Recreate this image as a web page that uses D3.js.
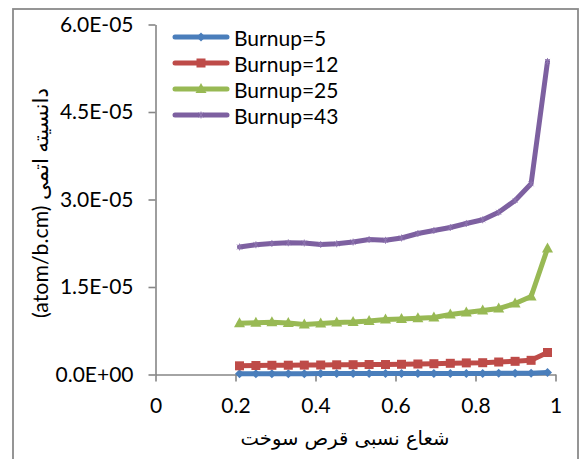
<!DOCTYPE html>
<html>
<head>
<meta charset="utf-8">
<script src="https://cdn.jsdelivr.net/npm/d3@7"></script>
<style>
  html, body { margin: 0; padding: 0; background: #fff; }
  svg { display: block; }
</style>
</head>
<body>
<svg id="chart" width="581" height="459"></svg>
<script>
// ---- data ----
const radius = [0.21, 0.251, 0.291, 0.332, 0.372, 0.413, 0.453, 0.494, 0.534, 0.575,
                0.615, 0.656, 0.696, 0.737, 0.777, 0.818, 0.858, 0.899, 0.939, 0.98];
const burnup5  = [0.015e-5, 0.015e-5, 0.015e-5, 0.015e-5, 0.015e-5, 0.016e-5, 0.016e-5, 0.016e-5, 0.016e-5, 0.017e-5,
                  0.017e-5, 0.017e-5, 0.018e-5, 0.018e-5, 0.019e-5, 0.019e-5, 0.020e-5, 0.021e-5, 0.022e-5, 0.035e-5];
const burnup12 = [0.149e-5, 0.154e-5, 0.158e-5, 0.159e-5, 0.161e-5, 0.163e-5, 0.166e-5, 0.168e-5, 0.171e-5, 0.171e-5,
                  0.175e-5, 0.180e-5, 0.185e-5, 0.192e-5, 0.199e-5, 0.202e-5, 0.214e-5, 0.226e-5, 0.243e-5, 0.377e-5];
const burnup25 = [0.879e-5, 0.886e-5, 0.895e-5, 0.883e-5, 0.857e-5, 0.874e-5, 0.891e-5, 0.900e-5, 0.917e-5, 0.943e-5,
                  0.951e-5, 0.963e-5, 0.977e-5, 1.029e-5, 1.063e-5, 1.097e-5, 1.131e-5, 1.217e-5, 1.337e-5, 2.160e-5];
const burnup43 = [2.186e-5, 2.224e-5, 2.246e-5, 2.258e-5, 2.254e-5, 2.229e-5, 2.240e-5, 2.270e-5, 2.314e-5, 2.300e-5,
                  2.340e-5, 2.417e-5, 2.469e-5, 2.520e-5, 2.589e-5, 2.652e-5, 2.780e-5, 2.983e-5, 3.270e-5, 5.366e-5];
const seriesNames = ["Burnup=5", "Burnup=12", "Burnup=25", "Burnup=43"];
const xTicks = [0, 0.2, 0.4, 0.6, 0.8, 1];
const xTickLabels = ["0", "0.2", "0.4", "0.6", "0.8", "1"];
const yTicks = [0, 1.5e-5, 3.0e-5, 4.5e-5, 6.0e-5];
const yTickLabels = ["0.0E+00", "1.5E-05", "3.0E-05", "4.5E-05", "6.0E-05"];
const xTitle = "شعاع نسبی قرص سوخت";
const yTitle = "(atom/b.cm) دانسیته اتمی";

// ---- styling ----
const colors = ["#4A7EBB", "#BE4B48", "#98B954", "#7D60A0"];
const markers = ["diamond", "square", "triangle", "star"];
const allSeries = [burnup5, burnup12, burnup25, burnup43];
const latin = "Lato, 'DejaVu Sans', sans-serif";

const svg = d3.select("#chart");

// outer frame
svg.append("rect").attr("x", 13).attr("y", 9).attr("width", 565).attr("height", 460)
  .attr("fill", "#fff").attr("stroke", "#8a8a8a").attr("stroke-width", 1.8);

const x = d3.scaleLinear().domain([0, 1]).range([155.5, 555.5]);
const y = d3.scaleLinear().domain([0, 6e-5]).range([374.5, 24.5]);

// axes
const yAxis = d3.axisLeft(y).tickValues(yTicks)
  .tickFormat((d, i) => yTickLabels[i]).tickSize(7).tickPadding(15).tickSizeOuter(0);
const xAxis = d3.axisBottom(x).tickValues(xTicks)
  .tickFormat((d, i) => xTickLabels[i]).tickSize(7).tickPadding(17).tickSizeOuter(0);

const gy = svg.append("g").attr("transform", "translate(155.5,0)").call(yAxis);
const gx = svg.append("g").attr("transform", "translate(0,374.5)").call(xAxis);
[gx, gy].forEach(g => {
  g.select(".domain").attr("stroke", "#868686").attr("stroke-width", 1.6);
  g.selectAll(".tick line").attr("stroke", "#868686").attr("stroke-width", 1.6);
  g.selectAll(".tick text").attr("fill", "#000").style("font-family", latin).style("font-size", "21px");
});

// marker drawing
function drawMarker(g, type, color) {
  if (type === "diamond") {
    g.append("path").attr("d", "M0,-4.5L4.5,0L0,4.5L-4.5,0Z").attr("fill", color);
  } else if (type === "square") {
    g.append("rect").attr("x", -4.5).attr("y", -4.5).attr("width", 9).attr("height", 9).attr("fill", color);
  } else if (type === "triangle") {
    g.append("path").attr("d", "M0,-6L5.5,4L-5.5,4Z").attr("fill", color);
  } else {
    g.append("path").attr("d", "M-2.5,-2.5L2.5,2.5M-2.5,2.5L2.5,-2.5M0,-3.5L0,3.5")
      .attr("stroke", "#8f76b0").attr("stroke-width", 0.9).attr("fill", "none");
  }
}

const line = d3.line().x(d => x(d[0])).y(d => y(d[1]));

allSeries.forEach((vals, si) => {
  const pts = radius.map((r, i) => [r, vals[i]]);
  svg.append("path").datum(pts).attr("d", line)
    .attr("fill", "none").attr("stroke", colors[si]).attr("stroke-width", 5)
    .attr("stroke-linejoin", "round").attr("stroke-linecap", "round");
  pts.forEach(p => {
    const g = svg.append("g").attr("transform", `translate(${x(p[0])},${y(p[1])})`);
    drawMarker(g, markers[si], colors[si]);
  });
});

// legend
const legendRows = [37, 63, 89, 115];
seriesNames.forEach((name, i) => {
  const ly = legendRows[i];
  svg.append("line").attr("x1", 175).attr("x2", 227).attr("y1", ly).attr("y2", ly)
    .attr("stroke", colors[i]).attr("stroke-width", 5).attr("stroke-linecap", "round");
  const g = svg.append("g").attr("transform", `translate(201,${ly})`);
  drawMarker(g, markers[i], colors[i]);
  svg.append("text").attr("x", 234).attr("y", ly + 8.5).text(name)
    .style("font-family", latin).style("font-size", "21px").attr("fill", "#000");
});

// axis titles
function fitText(t, target) {
  const len = t.node().getComputedTextLength();
  const fs = parseFloat(t.style("font-size"));
  if (len > 0) t.style("font-size", (fs * target / len) + "px");
}
const xt = svg.append("text").attr("x", 345).attr("y", 445).attr("text-anchor", "middle")
  .style("font-family", "'DejaVu Sans', serif").style("font-size", "18px")
  .attr("fill", "#000").text(xTitle);
fitText(xt, 209);

const yt = svg.append("text").attr("transform", "translate(48,203) rotate(-90)")
  .attr("text-anchor", "middle").attr("direction", "ltr")
  .style("font-family", latin).style("font-size", "21px")
  .attr("fill", "#000").text(yTitle);
fitText(yt, 230);
</script>
</body>
</html>
